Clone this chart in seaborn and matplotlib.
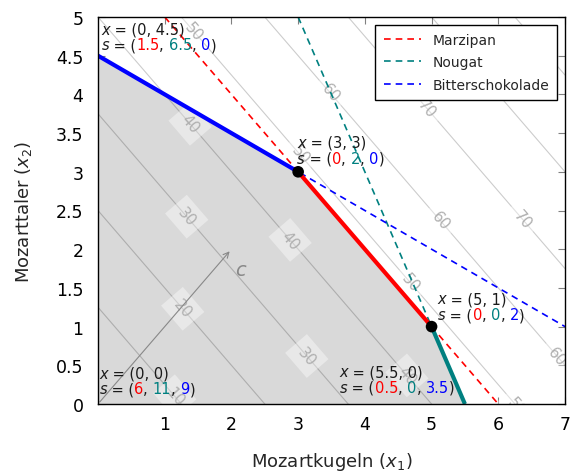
import numpy as np
import pandas as pd
import matplotlib
matplotlib.use("Agg")
import matplotlib.pyplot as plt
import seaborn as sns
from matplotlib.lines import Line2D
from matplotlib.offsetbox import TextArea, HPacker, VPacker, AnnotationBbox

# ---------------- data ----------------
constraint_names = ["Marzipan", "Nougat", "Bitterschokolade"]
constraint_a1 = [1, 2, 1]
constraint_a2 = [1, 1, 2]
constraint_b = [6, 11, 9]
constraint_colors = ["#ff0000", "#008080", "#0000ff"]

objective_c = [8, 8]
arrow_scale = 0.25
contour_levels = [10, 20, 30, 40, 50, 60, 70, 80, 90]
contour_label_x = {
    10: [1.15],
    20: [1.27],
    30: [1.33, 3.13],
    40: [1.38, 2.88, 4.63],
    50: [1.43, 3.03, 4.68, 6.28],
    60: [3.48, 5.13, 6.88],
    70: [4.93, 6.36],
}

vertex_x = [0, 0, 3, 5, 5.5]
vertex_y = [0, 4.5, 3, 1, 0]
vertex_slack = [[6, 11, 9], [1.5, 6.5, 0], [0, 2, 0], [0, 0, 2], [0.5, 0, 3.5]]
marked_vertices = [2, 3]

x_ticks = [1, 2, 3, 4, 5, 6, 7]
y_ticks = [0, 0.5, 1, 1.5, 2, 2.5, 3, 3.5, 4, 4.5, 5]
x_max, y_max = 7, 5

# ---------------- style ----------------
sns.set_style("ticks")
plt.rcParams["font.family"] = ["DejaVu Sans"]
plt.rcParams["mathtext.fontset"] = "dejavusans"

fig = plt.figure(figsize=(5.71, 4.77), dpi=100)
ax = fig.add_axes([98 / 571, 1 - 405 / 477, (565 - 98) / 571, (405 - 18) / 477])
ax.set_xlim(0, x_max)
ax.set_ylim(0, y_max)

# feasible region
ax.fill(vertex_x, vertex_y, color="#d9d9d9", lw=0, zorder=1)

# objective contours
xs_line = np.array([0.0, float(x_max)])
for L in contour_levels:
    ys_line = (L - objective_c[0] * xs_line) / objective_c[1]
    ax.plot(xs_line, ys_line, color="black", alpha=0.2, lw=0.8, zorder=1.5)
    for lx in contour_label_x.get(L, []):
        ly = (L - objective_c[0] * lx) / objective_c[1]
        ax.text(lx, ly, str(L), rotation=np.degrees(np.arctan2(-objective_c[0], objective_c[1])),
                transform_rotates_text=True, rotation_mode="anchor",
                ha="center", va="center", color="#b0b0b0", fontsize=11,
                bbox=dict(boxstyle="square,pad=0.45", fc="white", ec="none", alpha=0.4),
                clip_on=True, zorder=1.8)

# objective direction arrow
ax.annotate("", xy=(objective_c[0] * arrow_scale, objective_c[1] * arrow_scale), xytext=(0, 0),
            arrowprops=dict(arrowstyle="->", color="#888888", lw=0.8), zorder=2)
ax.text(objective_c[0] * arrow_scale + 0.05, objective_c[1] * arrow_scale - 0.33, "$c$",
        color="#888888", fontsize=14, zorder=2)

# constraint lines (dashed) via seaborn
rows = []
for name, a1, a2, b in zip(constraint_names, constraint_a1, constraint_a2, constraint_b):
    x0 = max(0.0, (b - y_max * a2) / a1)
    x1 = min(float(x_max), b / a1)
    for xv in (x0, x1):
        rows.append({"name": name, "x": xv, "y": (b - a1 * xv) / a2})
df = pd.DataFrame(rows)
palette = dict(zip(constraint_names, constraint_colors))
sns.lineplot(data=df, x="x", y="y", hue="name", style="name", palette=palette,
             dashes={n: (4, 3) for n in constraint_names}, lw=1.2, sort=False,
             estimator=None, legend=False, ax=ax, zorder=3)

# binding edges (thick)
for i in range(len(vertex_x) - 1):
    common = [k for k in range(3) if vertex_slack[i][k] == 0 and vertex_slack[i + 1][k] == 0]
    if common:
        ax.plot([vertex_x[i], vertex_x[i + 1]], [vertex_y[i], vertex_y[i + 1]],
                color=constraint_colors[common[0]], lw=3, solid_capstyle="butt", zorder=4)

sns.scatterplot(x=[vertex_x[i] for i in marked_vertices], y=[vertex_y[i] for i in marked_vertices],
                color="black", s=70, edgecolor="none", zorder=5, ax=ax, clip_on=False)

# vertex annotations
def fmt(v):
    return f"{v:g}"

ann_layout = {
    0: ((0, 0), (1.0, 5.5)),
    1: ((0, 0), (2.5, 2.5)),
    2: ((0, 0), (-0.8, 4.5)),
    3: ((0, 0), (4.5, 3.2)),
    4: ((1, 0), (-7.5, 6.5)),
}
fs_ann = 10.5
for i, (vx, vy) in enumerate(zip(vertex_x, vertex_y)):
    tp = dict(fontsize=fs_ann, color="#1a1a1a")
    line1 = HPacker(children=[
        TextArea("x", textprops=dict(style="italic", **tp)),
        TextArea(" = (" + fmt(vx) + ", " + fmt(vy) + ")", textprops=tp)], sep=0, pad=0, align="baseline")
    parts = [TextArea("s", textprops=dict(style="italic", **tp)), TextArea(" = (", textprops=tp)]
    for k, sv in enumerate(vertex_slack[i]):
        parts.append(TextArea(fmt(sv), textprops=dict(fontsize=fs_ann, color=constraint_colors[k])))
        parts.append(TextArea(", " if k < 2 else ")", textprops=tp))
    line2 = HPacker(children=parts, sep=0, pad=0, align="baseline")
    box = VPacker(children=[line1, line2], align="left", sep=0.5, pad=0)
    align, off = ann_layout[i]
    ab = AnnotationBbox(box, (vx, vy), xybox=off, xycoords="data", boxcoords="offset points",
                        box_alignment=align, frameon=False, pad=0, zorder=6, annotation_clip=False)
    ax.add_artist(ab)

# legend
handles = [Line2D([], [], color=c, lw=1.2, linestyle=(0, (4, 3))) for c in constraint_colors]
leg = ax.legend(handles, constraint_names, loc="upper right", fontsize=10, frameon=True,
                fancybox=False, framealpha=1, edgecolor="black", handlelength=2.7,
                labelspacing=0.6, borderaxespad=0.55, borderpad=0.6)
leg.get_frame().set_linewidth(1.0)
leg.set_zorder(10)

# axes / ticks
ax.set_xticks(x_ticks)
ax.set_yticks(y_ticks)
ax.set_yticklabels([fmt(v) for v in y_ticks])
ax.tick_params(axis="both", direction="in", top=True, right=True, length=5, width=0.8,
               color="#808080", labelsize=12.5, labelcolor="black")
ax.tick_params(axis="x", pad=8)
ax.tick_params(axis="y", pad=10.5)
for sp in ax.spines.values():
    sp.set_color("black")
    sp.set_linewidth(1.0)
    sp.set_zorder(11)
ax.set_xlabel("Mozartkugeln $(x_1)$", fontsize=13, labelpad=12)
ax.set_ylabel("Mozarttaler $(x_2)$", fontsize=13, labelpad=16)

fig.savefig("out.png", dpi=100)
